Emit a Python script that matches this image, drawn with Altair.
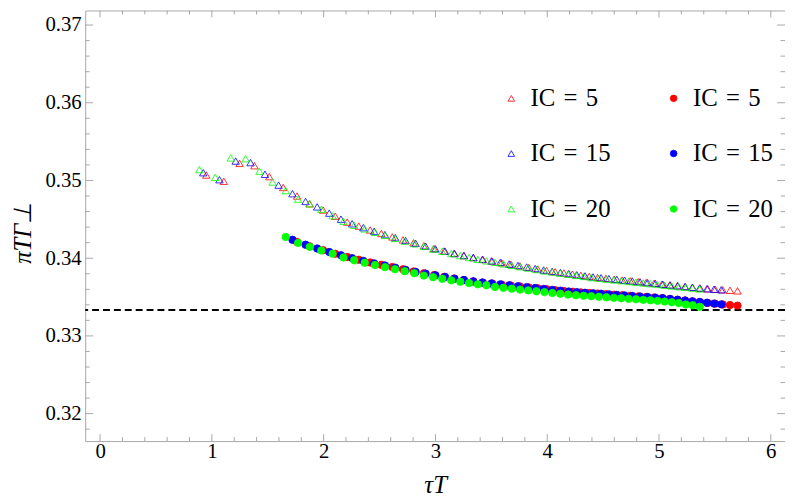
import altair as alt
import pandas as pd

# ---- data ----
ic_labels = ["IC = 5", "IC = 15", "IC = 20"]
series_keys = ["t5", "t15", "t20", "c5", "c15", "c20"]

x_ic5 = [0.950, 1.107, 1.248, 1.381, 1.514, 1.638, 1.762, 1.874, 1.995,
         2.104, 2.211, 2.314, 2.416, 2.516, 2.614, 2.710, 2.804, 2.897, 2.988,
         3.078, 3.167, 3.254, 3.340, 3.425, 3.509, 3.592, 3.674, 3.756, 3.835,
         3.915, 3.994, 4.071, 4.149, 4.225, 4.301, 4.376, 4.451, 4.525, 4.599,
         4.671, 4.743, 4.814, 4.886, 4.956, 5.026, 5.096, 5.165, 5.233, 5.301,
         5.369, 5.436, 5.503, 5.570, 5.635, 5.702]
x_ic15 = [0.923, 1.068, 1.213, 1.346, 1.475, 1.597, 1.721, 1.838, 1.942,
          2.050, 2.155, 2.255, 2.355, 2.452, 2.548, 2.641, 2.733, 2.823, 2.912,
          3.000, 3.086, 3.171, 3.255, 3.338, 3.420, 3.501, 3.580, 3.660, 3.738,
          3.816, 3.892, 3.968, 4.044, 4.118, 4.192, 4.265, 4.338, 4.410, 4.482,
          4.552, 4.623, 4.692, 4.761, 4.830, 4.898, 4.967, 5.034, 5.100, 5.167,
          5.233, 5.298, 5.363, 5.429, 5.492, 5.557]
x_ic20 = [0.888, 1.030, 1.169, 1.302, 1.426, 1.543, 1.661, 1.771, 1.876,
          1.979, 2.080, 2.177, 2.273, 2.367, 2.459, 2.549, 2.638, 2.725, 2.811,
          2.896, 2.979, 3.061, 3.142, 3.222, 3.301, 3.379, 3.456, 3.533, 3.608,
          3.683, 3.757, 3.830, 3.903, 3.975, 4.046, 4.117, 4.187, 4.257, 4.326,
          4.394, 4.462, 4.529, 4.596, 4.662, 4.728, 4.794, 4.859, 4.923, 4.987,
          5.051, 5.114, 5.177, 5.240, 5.301, 5.364]

# open triangles (all points)
tri_ic5 = [0.3507, 0.3499, 0.3522, 0.3519, 0.3505, 0.3491, 0.3480, 0.3470, 0.3462, 0.3454,
           0.34465, 0.34413, 0.34363, 0.34318, 0.34274, 0.34236, 0.34198, 0.34161, 0.34125,
           0.34093, 0.34062, 0.34034, 0.34008, 0.33984, 0.33963, 0.33942, 0.33922, 0.33901,
           0.33881, 0.33861, 0.33842, 0.33826, 0.33810, 0.33795, 0.33780, 0.33765, 0.33752,
           0.33741, 0.33730, 0.33719, 0.33709, 0.33698, 0.33687, 0.33677, 0.33666, 0.33656,
           0.33645, 0.33635, 0.33625, 0.33615, 0.33606, 0.33600, 0.33593, 0.33587, 0.33580]
tri_ic15 = [0.3510, 0.3501, 0.3525, 0.3523, 0.3508, 0.3494, 0.3483, 0.3473, 0.3466, 0.3458,
            0.34502, 0.34443, 0.34393, 0.34347, 0.34303, 0.34264, 0.34227, 0.34191, 0.34155,
            0.34120, 0.34090, 0.34060, 0.34034, 0.34009, 0.33985, 0.33965, 0.33945, 0.33925,
            0.33906, 0.33886, 0.33867, 0.33848, 0.33831, 0.33816, 0.33802, 0.33787, 0.33772,
            0.33759, 0.33748, 0.33737, 0.33727, 0.33716, 0.33706, 0.33696, 0.33685, 0.33675,
            0.33665, 0.33655, 0.33645, 0.33635, 0.33625, 0.33616, 0.33607, 0.33601, 0.33594]
tri_ic20 = [0.3514, 0.3504, 0.3529, 0.3528, 0.3512, 0.3498, 0.3487, 0.3476, 0.3470, 0.3463,
            0.34546, 0.34476, 0.34424, 0.34377, 0.34333, 0.34293, 0.34255, 0.34220, 0.34186,
            0.34152, 0.34118, 0.34089, 0.34060, 0.34033, 0.34010, 0.33986, 0.33966, 0.33947,
            0.33928, 0.33909, 0.33891, 0.33873, 0.33854, 0.33836, 0.33821, 0.33807, 0.33793,
            0.33779, 0.33765, 0.33751, 0.33741, 0.33731, 0.33721, 0.33711, 0.33701, 0.33691,
            0.33681, 0.33672, 0.33662, 0.33652, 0.33643, 0.33633, 0.33624, 0.33615, 0.33605]

# filled circles (start at the 7th time step)
dot_ic5 = [0.34210, 0.34153, 0.34103, 0.34058, 0.34016, 0.33980, 0.33945, 0.33915, 0.33886,
           0.33857, 0.33829, 0.33806, 0.33783, 0.33761, 0.33738, 0.33719, 0.33702, 0.33686,
           0.33674, 0.33661, 0.33649, 0.33637, 0.33625, 0.33613, 0.33601, 0.33589, 0.33578,
           0.33568, 0.33560, 0.33552, 0.33545, 0.33538, 0.33530, 0.33523, 0.33516, 0.33509,
           0.33501, 0.33494, 0.33486, 0.33476, 0.33465, 0.33455, 0.33445, 0.33435, 0.33425,
           0.33415, 0.33405, 0.33397, 0.33390]
dot_ic15 = [0.34237, 0.34174, 0.34125, 0.34080, 0.34038, 0.34001, 0.33966, 0.33934, 0.33906,
            0.33878, 0.33850, 0.33824, 0.33802, 0.33780, 0.33759, 0.33737, 0.33719, 0.33702,
            0.33687, 0.33675, 0.33663, 0.33651, 0.33639, 0.33628, 0.33616, 0.33605, 0.33593,
            0.33582, 0.33571, 0.33564, 0.33556, 0.33549, 0.33542, 0.33535, 0.33528, 0.33521,
            0.33514, 0.33507, 0.33500, 0.33493, 0.33485, 0.33475, 0.33465, 0.33455, 0.33445,
            0.33436, 0.33426, 0.33416, 0.33406]
dot_ic20 = [0.34273, 0.34197, 0.34146, 0.34099, 0.34058, 0.34009, 0.33974, 0.33942, 0.33912,
            0.33885, 0.33859, 0.33833, 0.33807, 0.33776, 0.33755, 0.33735, 0.33715, 0.33696,
            0.33680, 0.33664, 0.33652, 0.33630, 0.33619, 0.33608, 0.33596, 0.33586, 0.33575,
            0.33564, 0.33553, 0.33542, 0.33532, 0.33524, 0.33517, 0.33511, 0.33504, 0.33497,
            0.33490, 0.33484, 0.33477, 0.33471, 0.33464, 0.33458, 0.33451, 0.33442, 0.33433,
            0.33423, 0.33404, 0.33395, 0.33375]
dot_start = 6

reference_level = [1 / 3]

x_major = [0, 1, 2, 3, 4, 5, 6]
x_minor = [0.2, 0.4, 0.6, 0.8, 1.2, 1.4, 1.6, 1.8, 2.2, 2.4, 2.6, 2.8,
           3.2, 3.4, 3.6, 3.8, 4.2, 4.4, 4.6, 4.8, 5.2, 5.4, 5.6, 5.8]
y_major = [0.32, 0.33, 0.34, 0.35, 0.36, 0.37]
y_minor = [0.318, 0.322, 0.324, 0.326, 0.328, 0.332, 0.334, 0.336, 0.338,
           0.342, 0.344, 0.346, 0.348, 0.352, 0.354, 0.356, 0.358, 0.362,
           0.364, 0.366, 0.368]

# ---- build table ----
rows = []
for key, xs, ys in [("t5", x_ic5, tri_ic5), ("t15", x_ic15, tri_ic15), ("t20", x_ic20, tri_ic20)]:
    for a, b in zip(xs, ys):
        rows.append({"x": a, "y": b, "key": key})
for key, xs, ys in [("c5", x_ic5, dot_ic5), ("c15", x_ic15, dot_ic15), ("c20", x_ic20, dot_ic20)]:
    for a, b in zip(xs[dot_start:], ys):
        rows.append({"x": a, "y": b, "key": key})
df = pd.DataFrame(rows)

W, H = 707, 435
FONT = "Liberation Serif"
FRAME = "#a8a8a8"

xscale = alt.Scale(domain=[-0.133, 6.127], nice=False, zero=False)
yscale = alt.Scale(domain=[0.31647, 0.37187], nice=False, zero=False)

x_axis = alt.Axis(values=x_major, format="d", title="τT", domain=False, ticks=False,
                  tickSize=0, grid=False, labelFont=FONT, labelFontSize=21,
                  labelColor="black", labelPadding=0, titleFont=FONT, titleFontSize=25,
                  titleFontStyle="italic", titleFontWeight="normal", titleColor="black",
                  titleY=44, titleBaseline="middle")
y_axis = alt.Axis(values=y_major, format=".2f", title="πTΓ⊥", domain=False, ticks=False,
                  tickSize=0, grid=False, labelFont=FONT, labelFontSize=21,
                  labelColor="black", labelPadding=4, titleFont=FONT, titleFontSize=25,
                  titleFontStyle="italic", titleFontWeight="normal", titleColor="black",
                  titleAngle=270, titleX=-63, titleY=224, titleBaseline="middle",
                  titleAlign="center")

legend = alt.Legend(title=None, orient="none", legendX=418, legendY=76,
                    columns=2, columnPadding=51, rowPadding=30, padding=0,
                    labelExpr="'IC\u2004=\u2004' + substring(datum.label, 1)",
                    labelFont=FONT, labelFontSize=25, labelColor="black",
                    labelOffset=7, symbolStrokeWidth=0.8, symbolSize=45)

points = alt.Chart(df).mark_point(filled=True, size=56, strokeWidth=0.8, opacity=1).encode(
    x=alt.X("x:Q", scale=xscale, axis=x_axis),
    y=alt.Y("y:Q", scale=yscale, axis=y_axis),
    shape=alt.Shape("key:N", scale=alt.Scale(domain=series_keys,
                    range=["triangle-up", "triangle-up", "triangle-up", "circle", "circle", "circle"]),
                    legend=legend),
    stroke=alt.Stroke("key:N", scale=alt.Scale(domain=series_keys,
                      range=["#ff0000", "#0000ff", "#00ff00", "#ff0000", "#0000ff", "#00ff00"]),
                      legend=legend),
    fill=alt.Fill("key:N", scale=alt.Scale(domain=series_keys,
                  range=["transparent", "transparent", "transparent", "#ff0000", "#0000ff", "#00ff00"]),
                  legend=legend),
)

ref_line = alt.Chart(pd.DataFrame({"y": reference_level})).mark_rule(
    color="black", strokeWidth=2, strokeDash=[7, 4]).encode(
    y=alt.Y("y:Q", scale=yscale, axis=y_axis))

def xticks(vals, length):
    d = pd.DataFrame({"x": vals})
    bottom = alt.Chart(d).mark_rule(color=FRAME, strokeWidth=1).encode(
        x=alt.X("x:Q", scale=xscale, axis=x_axis), y=alt.value(H), y2=alt.value(H - length))
    top = alt.Chart(d).mark_rule(color=FRAME, strokeWidth=1).encode(
        x=alt.X("x:Q", scale=xscale, axis=x_axis), y=alt.value(0), y2=alt.value(length))
    return [bottom, top]

def yticks(vals, length):
    d = pd.DataFrame({"y": vals})
    left = alt.Chart(d).mark_rule(color=FRAME, strokeWidth=1).encode(
        y=alt.Y("y:Q", scale=yscale, axis=y_axis), x=alt.value(0), x2=alt.value(length))
    right = alt.Chart(d).mark_rule(color=FRAME, strokeWidth=1).encode(
        y=alt.Y("y:Q", scale=yscale, axis=y_axis), x=alt.value(W), x2=alt.value(W - length))
    return [left, right]

layers = xticks(x_major, 7) + xticks(x_minor, 4) + yticks(y_major, 8) + yticks(y_minor, 4.5)
layers += [ref_line, points]

chart = alt.layer(*layers).properties(
    width=W, height=H,
    autosize=alt.AutoSizeParams(type="none"),
    padding={"left": 78, "top": 0, "right": 0, "bottom": 57},
    background="white",
).configure_view(
    stroke=FRAME, strokeWidth=1
).configure_axis(
    labelFont=FONT, titleFont=FONT, labelColor="black", titleColor="black"
).configure_legend(
    labelFont=FONT
).configure_text(font=FONT)

chart.save("out.html", embed_options={"renderer": "svg", "actions": False})
